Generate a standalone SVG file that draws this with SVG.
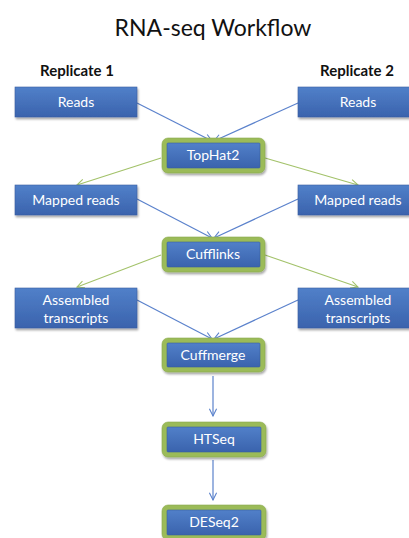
<svg xmlns="http://www.w3.org/2000/svg" width="409" height="538" viewBox="0 0 409 538">
  <defs>
    <linearGradient id="blueFill" x1="0" y1="0" x2="0" y2="1">
      <stop offset="0" stop-color="#5180c9"/>
      <stop offset="1" stop-color="#3a63ad"/>
    </linearGradient>
    <filter id="shadow" x="-10%" y="-20%" width="125%" height="150%">
      <feGaussianBlur in="SourceAlpha" stdDeviation="1.2"/>
      <feOffset dx="1" dy="2" result="b"/>
      <feComponentTransfer><feFuncA type="linear" slope="0.35"/></feComponentTransfer>
      <feMerge><feMergeNode/><feMergeNode in="SourceGraphic"/></feMerge>
    </filter>
    <marker id="arrowBlue" viewBox="0 0 10 10" refX="9" refY="5" markerWidth="9" markerHeight="9" orient="auto" markerUnits="userSpaceOnUse">
      <path d="M1,1 L9,5 L1,9" fill="none" stroke="#5b82cc" stroke-width="1.2"/>
    </marker>
    <marker id="arrowGreen" viewBox="0 0 10 10" refX="9" refY="5" markerWidth="9" markerHeight="9" orient="auto" markerUnits="userSpaceOnUse">
      <path d="M1,1 L9,5 L1,9" fill="none" stroke="#a3c26a" stroke-width="1.2"/>
    </marker>
  </defs>
  <style>
    text { font-family: Lato, "Liberation Sans", sans-serif; }
    .title { font-size: 23px; fill: #111; }
    .rep { font-size: 15px; font-weight: bold; fill: #111; }
    .box { fill: url(#blueFill); stroke: #3b5fa0; stroke-width: 0.6; filter: url(#shadow); }
    .tool-frame { fill: #9bbb59; stroke: #8aaa4a; stroke-width: 0.6; filter: url(#shadow); }
    .tool-inner { fill: url(#blueFill); stroke: #3b5fa0; stroke-width: 0.6; }
    .lbl { font-size: 14px; fill: #ffffff; text-anchor: middle; }
    .blue { stroke: #5b82cc; stroke-width: 1.2; fill: none; marker-end: url(#arrowBlue); }
    .green { stroke: #a3c26a; stroke-width: 1.2; fill: none; marker-end: url(#arrowGreen); }
  </style>

  <rect width="409" height="538" fill="#ffffff"/>

  <text class="title" x="213" y="36" text-anchor="middle">RNA-seq Workflow</text>
  <text class="rep" x="77" y="76" text-anchor="middle">Replicate 1</text>
  <text class="rep" x="357" y="76" text-anchor="middle">Replicate 2</text>

  <g id="connectors">
    <line class="blue" x1="137" y1="103" x2="212" y2="141"/>
    <line class="blue" x1="298" y1="103" x2="214" y2="141"/>
    <line class="green" x1="161" y1="158" x2="77" y2="185"/>
    <line class="green" x1="265" y1="158" x2="358" y2="185"/>
    <line class="blue" x1="137" y1="199" x2="212" y2="238"/>
    <line class="blue" x1="298" y1="199" x2="214" y2="238"/>
    <line class="green" x1="161" y1="255" x2="77" y2="287"/>
    <line class="green" x1="265" y1="255" x2="358" y2="287"/>
    <line class="blue" x1="137" y1="300" x2="212" y2="339"/>
    <line class="blue" x1="298" y1="300" x2="214" y2="339"/>
    <line class="blue" x1="213" y1="376" x2="213" y2="416"/>
    <line class="blue" x1="213" y1="460" x2="213" y2="500"/>
  </g>

  <g id="reads1">
    <rect class="box" x="15" y="87" width="122" height="30"/>
    <text class="lbl" x="76" y="107">Reads</text>
  </g>
  <g id="reads2">
    <rect class="box" x="298" y="87" width="122" height="30"/>
    <text class="lbl" x="358" y="107">Reads</text>
  </g>

  <g id="tophat2">
    <rect class="tool-frame" x="162" y="138" width="103" height="35" rx="6"/>
    <rect class="tool-inner" x="167" y="143" width="93" height="25" rx="1"/>
    <text class="lbl" x="213" y="160">TopHat2</text>
  </g>

  <g id="mapped1">
    <rect class="box" x="15" y="185" width="122" height="30"/>
    <text class="lbl" x="76" y="205">Mapped reads</text>
  </g>
  <g id="mapped2">
    <rect class="box" x="298" y="185" width="122" height="30"/>
    <text class="lbl" x="358" y="205">Mapped reads</text>
  </g>

  <g id="cufflinks">
    <rect class="tool-frame" x="162" y="237" width="103" height="35" rx="6"/>
    <rect class="tool-inner" x="167" y="242" width="93" height="25" rx="1"/>
    <text class="lbl" x="213" y="259">Cufflinks</text>
  </g>

  <g id="assembled1">
    <rect class="box" x="15" y="288" width="122" height="40"/>
    <text class="lbl" x="76" y="305">Assembled</text>
    <text class="lbl" x="76" y="323">transcripts</text>
  </g>
  <g id="assembled2">
    <rect class="box" x="298" y="288" width="122" height="40"/>
    <text class="lbl" x="358" y="305">Assembled</text>
    <text class="lbl" x="358" y="323">transcripts</text>
  </g>

  <g id="cuffmerge">
    <rect class="tool-frame" x="162" y="338" width="103" height="34" rx="6"/>
    <rect class="tool-inner" x="167" y="343" width="93" height="24" rx="1"/>
    <text class="lbl" x="213" y="360">Cuffmerge</text>
  </g>

  <g id="htseq">
    <rect class="tool-frame" x="162" y="422" width="104" height="35" rx="6"/>
    <rect class="tool-inner" x="167" y="427" width="94" height="25" rx="1"/>
    <text class="lbl" x="214" y="444">HTSeq</text>
  </g>

  <g id="deseq2">
    <rect class="tool-frame" x="162" y="505" width="104" height="35" rx="6"/>
    <rect class="tool-inner" x="167" y="510" width="94" height="25" rx="1"/>
    <text class="lbl" x="214" y="527">DESeq2</text>
  </g>
</svg>
